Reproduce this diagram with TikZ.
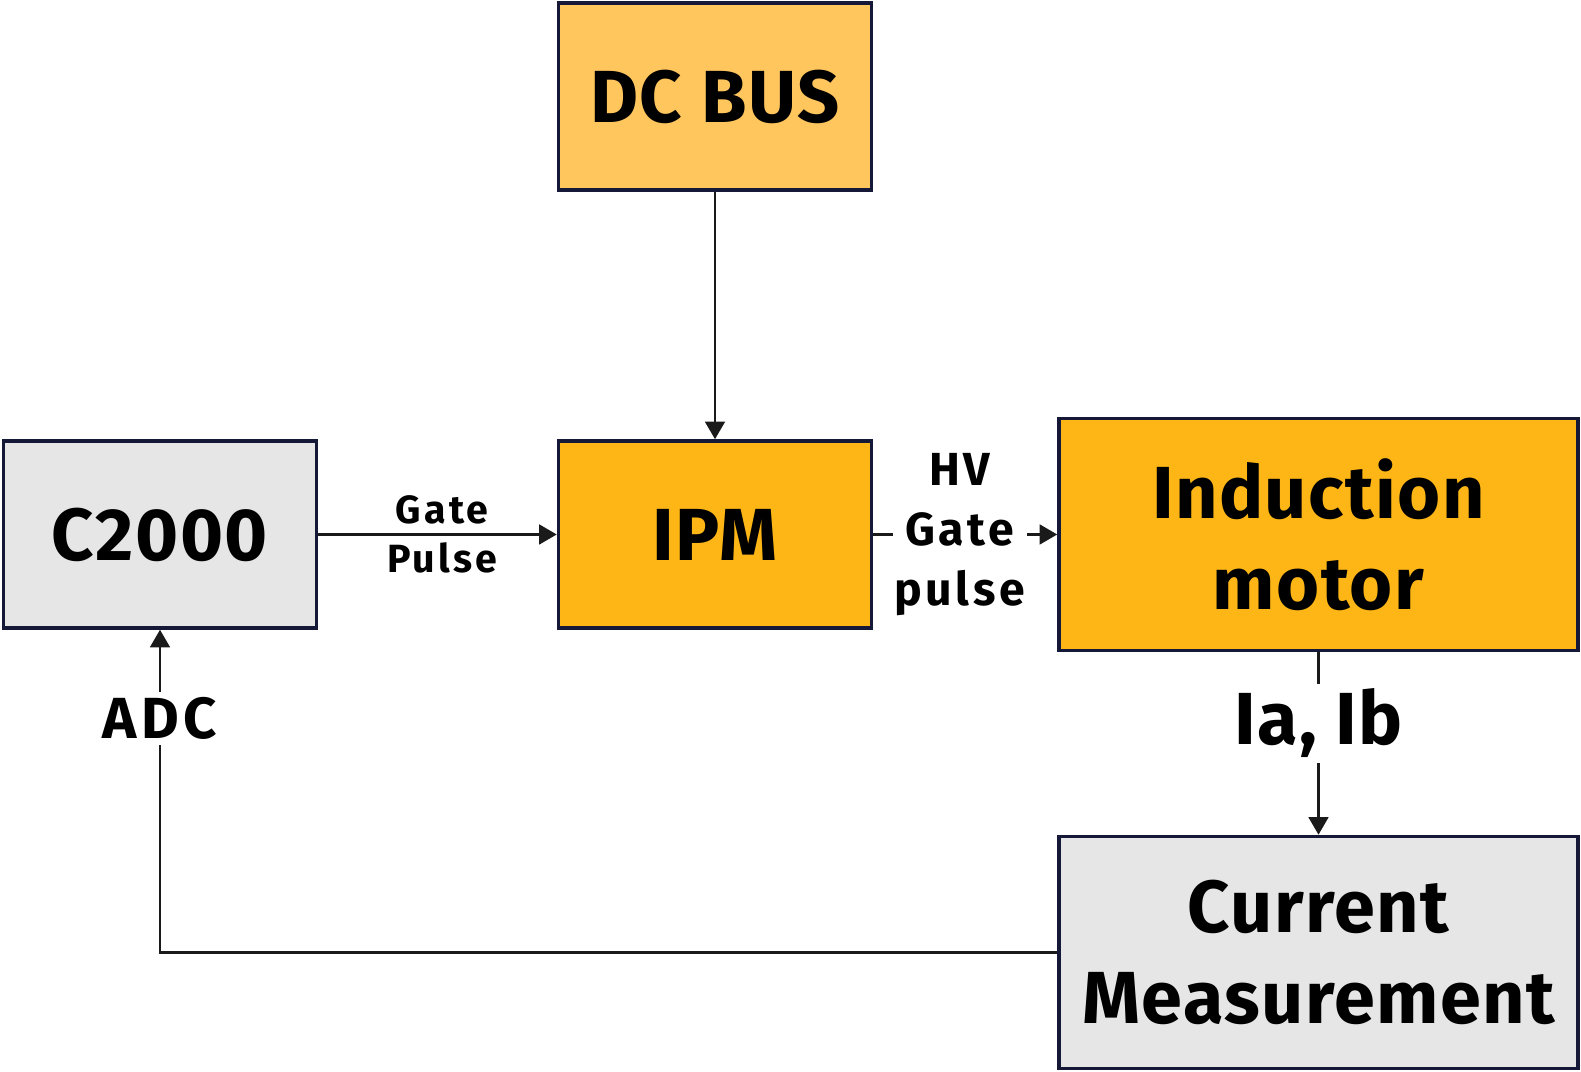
\documentclass[tikz,border=0pt]{standalone}
\usepackage{fontspec}
\setmainfont{Fira Sans}
\newfontfamily\blockfont{Fira Sans}[LetterSpace=2]
\newfontfamily\labelfont{Fira Sans}[LetterSpace=8]
\definecolor{busorange}{RGB}{255,198,94}
\definecolor{ipmorange}{RGB}{253,182,21}
\definecolor{boxgray}{RGB}{230,230,230}
\definecolor{boxnavy}{RGB}{22,24,56}
\definecolor{wirecolor}{RGB}{26,26,26}
\usetikzlibrary{positioning, arrows.meta}
\tikzset{
>={Triangle[length=5pt,width=5.6pt]}, % filled triangle heads
wire/.style={->, draw=wirecolor, line width=0.75pt}, % connector lines
block/.style={rectangle, draw=boxnavy, line width=1pt, align=center, text=black, font=\blockfont\bfseries\fontsize{21}{26}\selectfont}, % the boxes
smallbox/.style={block, minimum width=3.13cm, minimum height=1.87cm}, % DC BUS, IPM, C2000
bigbox/.style={block, minimum width=5.19cm, minimum height=2.32cm}, % motor and measurement
wirelabel/.style={align=center, text=black, inner sep=1.5pt, font=\labelfont\bfseries}, % texts on the connectors
}

\begin{document}
\begin{tikzpicture}
      \path[use as bounding box] (0,0) rectangle (15.81,10.72);
      \node[smallbox, fill=ipmorange] (IPM) at (7.15,5.375) {IPM};
      \node[smallbox, fill=busorange, above of=IPM, node distance=4.38cm] (DC) {DC BUS};
      \node[smallbox, fill=boxgray, left of=IPM, node distance=5.55cm] (C2000) {C2000};
      \node[bigbox, fill=ipmorange, right of=IPM, node distance=6.035cm] (IM) {Induction\\motor};
      \node[bigbox, fill=boxgray, below of=IM, node distance=4.18cm] (CM) {Current\\Measurement};

      \draw[wire] (DC) -- (IPM);
      \draw[wire] (C2000) -- node[wirelabel, pos=0.52, font=\labelfont\bfseries\fontsize{11.2}{13.8}\selectfont]{Gate\\Pulse} (IPM);
      \draw[wire] (IPM) -- node[wirelabel, fill=white, pos=0.47, inner sep=0.5pt, font=\labelfont\bfseries\fontsize{13.2}{17}\selectfont]{HV\\Gate\\pulse} (IM);
      \draw[wire] (IM) -- node[wirelabel, fill=white, pos=0.39, font=\blockfont\bfseries\fontsize{21}{26}\selectfont]{Ia, Ib} (CM);
      \draw[wire] (CM.west) -| node[wirelabel, fill=white, pos=0.862, font=\labelfont\bfseries\fontsize{16.5}{20}\selectfont]{ADC} (C2000.south);
    \end{tikzpicture}
\end{document}
